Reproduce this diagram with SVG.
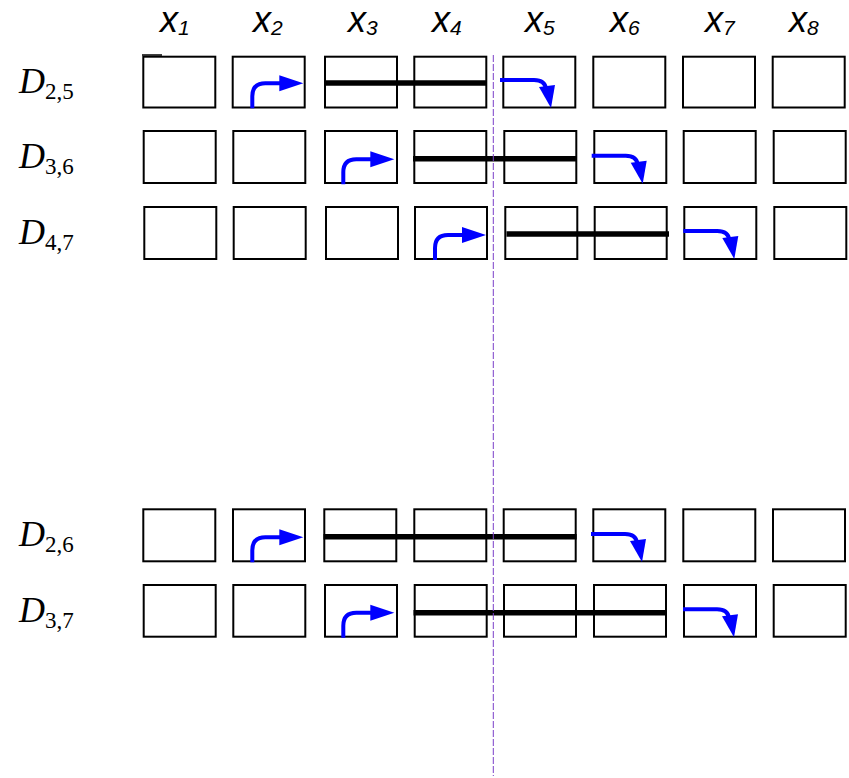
<svg xmlns="http://www.w3.org/2000/svg" xmlns:xlink="http://www.w3.org/1999/xlink" width="849" height="778" viewBox="0 0 849 778">
<style>
.box{fill:#fff;stroke:#000;stroke-width:2}
.bar{stroke:#000;stroke-width:5.5;fill:none}
.arr{stroke:#0000ff;stroke-width:4;fill:none}
.head{fill:#0000ff;stroke:none}
.hx{font-family:"Liberation Sans",Arial,sans-serif;font-style:italic;font-size:36px;fill:#000}
.hs{font-size:21px}
.dl{font-family:"Liberation Serif","Times New Roman",serif;font-style:italic;font-size:36px;fill:#000}
.ds{font-style:normal;font-size:23px}
</style>
<defs>
<g id="upright">
<path class="arr" d="M0,0 L0,-12 Q0,-25 13,-25 L29,-25"/>
<polygon class="head" points="27,-33 51,-25 27,-17"/>
</g>
<g id="rightdown">
<path class="arr" d="M0,0 L34,0 Q45,0 46,9"/>
<polygon class="head" points="39,7 55,5 51,28"/>
</g>
</defs>
<rect width="849" height="778" fill="#fff"/>
<g id="headers">
<text class="hx" x="160" y="32">x<tspan class="hs" dy="3">1</tspan></text>
<text class="hx" x="253" y="32">x<tspan class="hs" dy="3">2</tspan></text>
<text class="hx" x="348" y="32">x<tspan class="hs" dy="3">3</tspan></text>
<text class="hx" x="432" y="32">x<tspan class="hs" dy="3">4</tspan></text>
<text class="hx" x="525" y="32">x<tspan class="hs" dy="3">5</tspan></text>
<text class="hx" x="610" y="32">x<tspan class="hs" dy="3">6</tspan></text>
<text class="hx" x="705" y="32">x<tspan class="hs" dy="3">7</tspan></text>
<text class="hx" x="789" y="32">x<tspan class="hs" dy="3">8</tspan></text>
</g>
<g id="labels">
<text class="dl" x="19" y="93">D<tspan class="ds" dy="6">2,5</tspan></text>
<text class="dl" x="19" y="168">D<tspan class="ds" dy="6">3,6</tspan></text>
<text class="dl" x="19" y="244">D<tspan class="ds" dy="6">4,7</tspan></text>
<text class="dl" x="19" y="546">D<tspan class="ds" dy="6">2,6</tspan></text>
<text class="dl" x="19" y="622">D<tspan class="ds" dy="6">3,7</tspan></text>
</g>
<g id="row1">
<g id="r1b1"><rect class="box" x="143.3" y="56.7" width="72" height="50.8"/></g>
<g id="r1b2"><rect class="box" x="232.7" y="56.7" width="72" height="50.8"/></g>
<g id="r1b3"><rect class="box" x="325" y="56.7" width="72" height="50.8"/></g>
<g id="r1b4"><rect class="box" x="414.3" y="56.7" width="72" height="50.8"/></g>
<g id="r1b5"><rect class="box" x="503.3" y="56.7" width="72" height="50.8"/></g>
<g id="r1b6"><rect class="box" x="593.3" y="56.7" width="72" height="50.8"/></g>
<g id="r1b7"><rect class="box" x="683" y="56.7" width="72" height="50.8"/></g>
<g id="r1b8"><rect class="box" x="772.7" y="56.7" width="72" height="50.8"/></g>
<line x1="142" y1="55" x2="162" y2="55" stroke="#000" stroke-width="1.5"/>
</g>
<g id="row2">
<g id="r2b1"><rect class="box" x="143.7" y="131" width="72" height="52"/></g>
<g id="r2b2"><rect class="box" x="233.3" y="131" width="72" height="52"/></g>
<g id="r2b3"><rect class="box" x="325" y="131" width="72" height="52"/></g>
<g id="r2b4"><rect class="box" x="414.3" y="131" width="72" height="52"/></g>
<g id="r2b5"><rect class="box" x="504.3" y="131" width="72" height="52"/></g>
<g id="r2b6"><rect class="box" x="594.3" y="131" width="72" height="52"/></g>
<g id="r2b7"><rect class="box" x="683.7" y="131" width="72" height="52"/></g>
<g id="r2b8"><rect class="box" x="773.7" y="131" width="72" height="52"/></g>
</g>
<g id="row3">
<g id="r3b1"><rect class="box" x="144.3" y="207" width="72" height="52"/></g>
<g id="r3b2"><rect class="box" x="233.7" y="207" width="72" height="52"/></g>
<g id="r3b3"><rect class="box" x="326" y="207" width="72" height="52"/></g>
<g id="r3b4"><rect class="box" x="415" y="207" width="72" height="52"/></g>
<g id="r3b5"><rect class="box" x="505.3" y="207" width="72" height="52"/></g>
<g id="r3b6"><rect class="box" x="594.7" y="207" width="72" height="52"/></g>
<g id="r3b7"><rect class="box" x="684.3" y="207" width="72" height="52"/></g>
<g id="r3b8"><rect class="box" x="774.3" y="207" width="72" height="52"/></g>
</g>
<g id="row4">
<g id="r4b1"><rect class="box" x="143.3" y="509.3" width="72" height="52"/></g>
<g id="r4b2"><rect class="box" x="233" y="509.3" width="72" height="52"/></g>
<g id="r4b3"><rect class="box" x="324.3" y="509.3" width="72" height="52"/></g>
<g id="r4b4"><rect class="box" x="414.3" y="509.3" width="72" height="52"/></g>
<g id="r4b5"><rect class="box" x="503.7" y="509.3" width="72" height="52"/></g>
<g id="r4b6"><rect class="box" x="593.3" y="509.3" width="72" height="52"/></g>
<g id="r4b7"><rect class="box" x="683.3" y="509.3" width="72" height="52"/></g>
<g id="r4b8"><rect class="box" x="773" y="509.3" width="72" height="52"/></g>
</g>
<g id="row5">
<g id="r5b1"><rect class="box" x="143.7" y="585" width="72" height="51.7"/></g>
<g id="r5b2"><rect class="box" x="233.3" y="585" width="72" height="51.7"/></g>
<g id="r5b3"><rect class="box" x="325" y="585" width="72" height="51.7"/></g>
<g id="r5b4"><rect class="box" x="414.7" y="585" width="72" height="51.7"/></g>
<g id="r5b5"><rect class="box" x="504" y="585" width="72" height="51.7"/></g>
<g id="r5b6"><rect class="box" x="594" y="585" width="72" height="51.7"/></g>
<g id="r5b7"><rect class="box" x="684" y="585" width="72" height="51.7"/></g>
<g id="r5b8"><rect class="box" x="773.7" y="585" width="72" height="51.7"/></g>
</g>
<g id="connectors">
<line class="bar" x1="324" y1="83" x2="487" y2="83"/>
<line class="bar" x1="413" y1="158.7" x2="577" y2="158.7"/>
<line class="bar" x1="506.5" y1="234" x2="669" y2="234"/>
<line class="bar" x1="323.5" y1="536.7" x2="576.7" y2="536.7"/>
<line class="bar" x1="413.5" y1="612.7" x2="666.7" y2="612.7"/>
<use xlink:href="#upright" x="252.3" y="108.3"/>
<use xlink:href="#upright" x="343.3" y="184.3"/>
<use xlink:href="#upright" x="435" y="260"/>
<use xlink:href="#upright" x="252.3" y="562.3"/>
<use xlink:href="#upright" x="343.3" y="637.7"/>
<use xlink:href="#rightdown" x="500" y="80"/>
<use xlink:href="#rightdown" x="591.7" y="155.7"/>
<use xlink:href="#rightdown" x="683.3" y="231"/>
<use xlink:href="#rightdown" x="591" y="534"/>
<use xlink:href="#rightdown" x="683" y="609.3"/>
<line x1="493.3" y1="55" x2="493.3" y2="776" stroke="#7b3fc8" stroke-width="1" stroke-dasharray="7 2"/>
</g>
</svg>
